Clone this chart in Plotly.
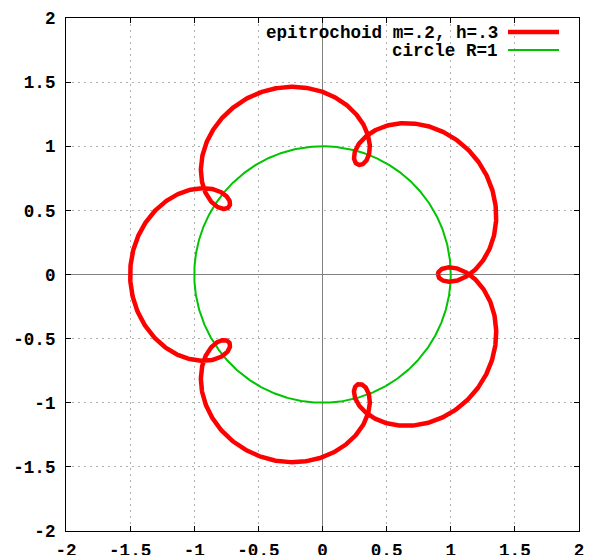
import numpy as np
import plotly.graph_objects as go

# Parameters
R_CIRCLE = 1.0
M_ROLL = 0.2
H_DIST = 0.3
legend_labels = ["epitrochoid m=.2, h=.3", "circle R=1"]
tick_vals = [-2, -1.5, -1, -0.5, 0, 0.5, 1, 1.5, 2]
tick_text = ["-2", "-1.5", "-1", "-0.5", "0", "0.5", "1", "1.5", "2"]

t = np.linspace(0, 2 * np.pi, 2001)
k = (R_CIRCLE + M_ROLL) / M_ROLL
ex = (R_CIRCLE + M_ROLL) * np.cos(t) - H_DIST * np.cos(k * t)
ey = (R_CIRCLE + M_ROLL) * np.sin(t) - H_DIST * np.sin(k * t)
cx = R_CIRCLE * np.cos(t)
cy = R_CIRCLE * np.sin(t)

FONT = dict(family="Liberation Mono", size=17.6, color="black", weight="bold")

fig = go.Figure()
fig.add_trace(go.Scatter(x=cx, y=cy, mode="lines", line=dict(color="#00c400", width=2),
                         name=legend_labels[1], showlegend=False))
fig.add_trace(go.Scatter(x=ex, y=ey, mode="lines", line=dict(color="#ff0000", width=4.5),
                         name=legend_labels[0], showlegend=False))

axis_common = dict(range=[-2, 2], tickvals=tick_vals, ticktext=tick_text,
                   showgrid=True, gridcolor="#b0b0b0", griddash="2px,4px", gridwidth=1,
                   zeroline=True, zerolinecolor="#808080", zerolinewidth=1,
                   showline=True, linecolor="black", linewidth=1, mirror="ticks",
                   ticks="inside", ticklen=5, tickcolor="black",
                   tickfont=FONT, fixedrange=True, automargin=False)
fig.update_xaxes(**axis_common, ticklabelstandoff=3)
fig.update_yaxes(**axis_common, ticklabelstandoff=6)

# gnuplot-style legend: right-aligned text followed by a line sample
L, R, T, B = 66, 579, 18, 531
rows = [(legend_labels[0], "#ff0000", 4.5, 32), (legend_labels[1], "#00c400", 2, 50)]
W, H = 590, 555
for label, col, w, ypx in rows:
    yp = 1 - (ypx - T) / (B - T)
    fig.add_annotation(xref="paper", yref="paper", x=(499 - L) / (R - L), y=yp,
                       text=label, showarrow=False, xanchor="right", yanchor="middle",
                       height=17, valign="middle", borderpad=0, font=FONT)
    fig.add_shape(type="line", xref="paper", yref="paper",
                  x0=(508 - L) / (R - L), x1=(559 - L) / (R - L),
                  y0=yp, y1=yp, line=dict(color=col, width=w))

fig.update_layout(width=W, height=H, margin=dict(l=L, r=W - R, t=T, b=H - B),
                  paper_bgcolor="white", plot_bgcolor="white", showlegend=False,
                  font=FONT)
fig.write_html("out.html", config={"displayModeBar": False},
               post_script="document.body.style.margin='0';document.body.style.overflow='hidden';")
